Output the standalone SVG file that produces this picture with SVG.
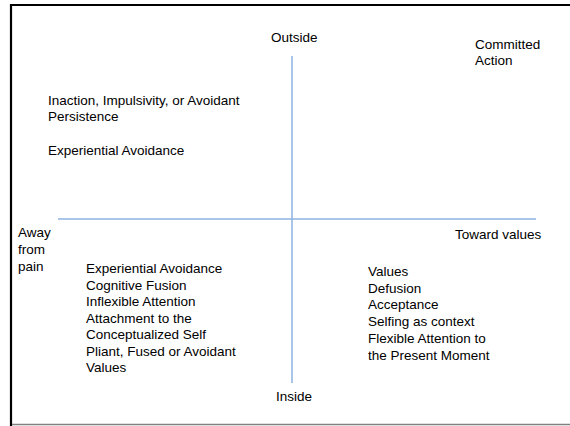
<svg xmlns="http://www.w3.org/2000/svg" width="570" height="426" viewBox="0 0 570 426">
  <style>
    .lbl { font-family: "Liberation Sans", Arial, sans-serif; font-size: 13.5px; fill: #000; }
    .axis { stroke: #8db3e2; stroke-width: 1.5; fill: none; }
  </style>
  <rect width="570" height="426" fill="#fff"/>
  <!-- frame -->
  <g id="frame" fill="none">
    <path d="M11 426 V5 H570" stroke="#000" stroke-width="2.2"/>
    <path d="M12 424.5 H570" stroke="#808080" stroke-width="1.5"/>
  </g>
  <!-- axes -->
  <g id="connectors">
    <line class="axis" x1="292" y1="56" x2="292" y2="383"/>
    <line class="axis" x1="58" y1="219" x2="536" y2="219"/>
  </g>
  <g id="outside"><text class="lbl" x="271" y="42">Outside</text></g>
  <g id="inside"><text class="lbl" x="276" y="401">Inside</text></g>
  <g id="toward"><text class="lbl" x="455" y="239">Toward values</text></g>
  <g id="away">
    <text class="lbl" x="18" y="237">Away</text>
    <text class="lbl" x="18" y="254">from</text>
    <text class="lbl" x="18" y="271">pain</text>
  </g>
  <g id="committed">
    <text class="lbl" x="475" y="49">Committed</text>
    <text class="lbl" x="475" y="65">Action</text>
  </g>
  <g id="upper-left">
    <text class="lbl" x="48" y="105">Inaction, Impulsivity, or Avoidant</text>
    <text class="lbl" x="48" y="121">Persistence</text>
    <text class="lbl" x="48" y="155">Experiential Avoidance</text>
  </g>
  <g id="lower-left">
    <text class="lbl" x="86" y="273">Experiential Avoidance</text>
    <text class="lbl" x="86" y="289.5">Cognitive Fusion</text>
    <text class="lbl" x="86" y="306">Inflexible Attention</text>
    <text class="lbl" x="86" y="322.5">Attachment to the</text>
    <text class="lbl" x="86" y="339">Conceptualized Self</text>
    <text class="lbl" x="86" y="355.5">Pliant, Fused or Avoidant</text>
    <text class="lbl" x="86" y="372">Values</text>
  </g>
  <g id="lower-right">
    <text class="lbl" x="368" y="276">Values</text>
    <text class="lbl" x="368" y="292.7">Defusion</text>
    <text class="lbl" x="368" y="309.4">Acceptance</text>
    <text class="lbl" x="368" y="326.1">Selfing as context</text>
    <text class="lbl" x="368" y="342.8">Flexible Attention to</text>
    <text class="lbl" x="368" y="359.5">the Present Moment</text>
  </g>
</svg>
